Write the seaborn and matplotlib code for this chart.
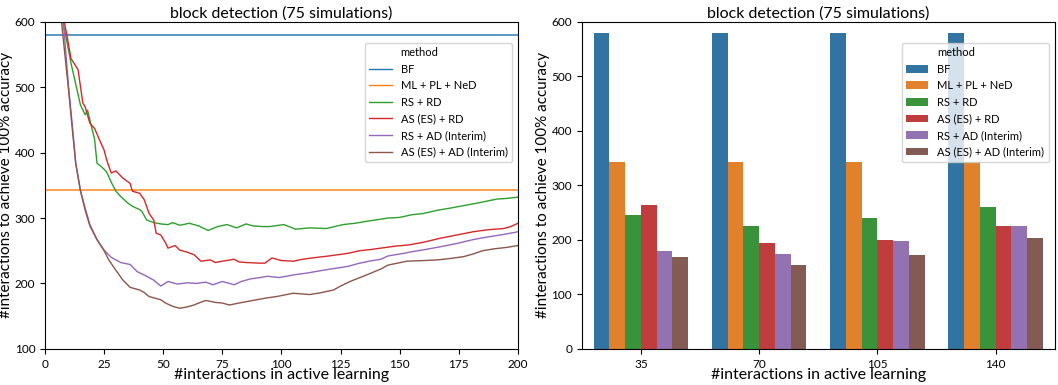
import numpy as np
import pandas as pd
import matplotlib
matplotlib.use("Agg")
import matplotlib.pyplot as plt
import seaborn as sns
from matplotlib.lines import Line2D

plt.rcParams['font.family'] = ['Lato', 'DejaVu Sans']

methods = ["BF", "ML + PL + NeD", "RS + RD", "AS (ES) + RD",
           "RS + AD (Interim)", "AS (ES) + AD (Interim)"]

# ---- left panel: curves ----
bf_x = [0, 200]
bf_y = [580, 580]
ml_x = [0, 200]
ml_y = [343, 343]

rsrd_x = [6, 8, 9, 11, 13, 15, 17, 18, 20, 21, 22, 24, 26, 28, 30, 32, 35, 37, 40, 41, 43, 46, 49, 52, 54,
          57, 61, 65, 69, 73, 77, 81, 85, 88, 92, 95, 101, 106, 112, 119, 126, 131, 136, 145, 150, 155,
          160, 166, 171, 177, 183, 187, 191, 195, 200]
rsrd_y = [632, 592, 575, 537, 505, 473, 458, 465, 435, 420, 384, 378, 371, 355, 341, 333, 323, 318, 313, 310,
          297, 293, 291, 290, 293, 289, 292, 288, 281, 287, 290, 285, 291, 288, 287, 287, 290, 283, 285, 284,
          290, 292, 295, 300, 301, 305, 307, 312, 315, 319, 323, 326, 329, 330, 332]

asrd_x = [7, 9, 11, 14, 16, 17, 19, 21, 23, 25, 26, 28, 30, 33, 36, 37, 40, 42, 44, 46, 47, 49, 51, 52, 55,
          57, 60, 63, 66, 70, 72, 75, 80, 82, 85, 91, 93, 96, 100, 105, 109, 113, 120, 128, 133, 138, 142,
          148, 154, 160, 167, 174, 181, 187, 194, 197, 200]
asrd_y = [620, 585, 544, 527, 476, 470, 445, 437, 420, 404, 390, 369, 372, 361, 353, 341, 338, 328, 307, 297,
          277, 274, 262, 254, 258, 251, 248, 244, 234, 236, 232, 234, 237, 233, 232, 231, 231, 239, 235, 234,
          237, 239, 242, 246, 250, 252, 254, 257, 259, 263, 269, 274, 279, 282, 284, 287, 292]

rsad_x = [6, 8, 10, 12, 13, 15, 17, 19, 22, 25, 28, 32, 36, 39, 43, 46, 49, 52, 56, 60, 64, 68, 71, 75, 80,
          83, 87, 91, 94, 99, 105, 111, 119, 128, 132, 137, 142, 145, 150, 156, 161, 167, 174, 181, 187,
          194, 200]
rsad_y = [640, 590, 500, 425, 384, 342, 315, 290, 267, 251, 240, 232, 229, 218, 211, 205, 196, 203, 199, 201,
          200, 202, 198, 203, 198, 203, 207, 209, 211, 209, 213, 216, 221, 226, 230, 234, 237, 242, 245,
          249, 252, 256, 261, 267, 271, 275, 279]

asad_x = [6, 7, 10, 12, 13, 15, 17, 19, 22, 25, 27, 30, 33, 36, 40, 42, 44, 49, 51, 54, 57, 60, 63, 65, 68,
          72, 75, 78, 82, 85, 91, 94, 98, 105, 112, 117, 122, 125, 129, 136, 142, 145, 149, 153, 160, 166,
          171, 177, 181, 185, 190, 195, 200]
asad_y = [635, 600, 495, 420, 384, 342, 312, 288, 267, 250, 236, 220, 205, 194, 190, 186, 180, 175, 170, 165,
          162, 164, 167, 170, 174, 171, 170, 167, 170, 172, 176, 178, 180, 185, 183, 186, 190, 196, 203, 213,
          222, 228, 231, 234, 235, 236, 238, 241, 245, 250, 253, 255, 258]

# ---- right panel: bars ----
bar_steps = ["35", "70", "105", "140"]
bar_bf = [580, 580, 580, 580]
bar_ml = [342, 342, 342, 342]
bar_rsrd = [246, 225, 240, 261]
bar_asrd = [264, 194, 200, 225]
bar_rsad = [179, 174, 198, 225]
bar_asad = [168, 154, 172, 203]

# ---- build long tables ----
series = [(bf_x, bf_y), (ml_x, ml_y), (rsrd_x, rsrd_y), (asrd_x, asrd_y),
          (rsad_x, rsad_y), (asad_x, asad_y)]
rows = []
for m, (xs, ys) in zip(methods, series):
    for xv, yv in zip(xs, ys):
        rows.append({"method": m, "x": xv, "value": yv})
line_df = pd.DataFrame(rows)

bars = [bar_bf, bar_ml, bar_rsrd, bar_asrd, bar_rsad, bar_asad]
brows = []
for m, vals in zip(methods, bars):
    for s, v in zip(bar_steps, vals):
        brows.append({"method": m, "step": s, "value": v})
bar_df = pd.DataFrame(brows)

fig, (ax1, ax2) = plt.subplots(1, 2, figsize=(10.58, 3.85), dpi=100)
fig.subplots_adjust(left=0.0425, right=0.997, top=0.943, bottom=0.094, wspace=0.135)

sns.lineplot(data=line_df, x="x", y="value", hue="method", hue_order=methods,
             linewidth=1, ax=ax1, estimator=None, sort=True)
ax1.set_xlim(0, 200)
ax1.set_ylim(100, 600)
ax1.set_xticks([0, 25, 50, 75, 100, 125, 150, 175, 200])
ax1.set_yticks([100, 200, 300, 400, 500, 600])
# constant reference lines look slightly lighter / wider
for ln in ax1.lines[:2]:
    ln.set_linewidth(1.4)
    ln.set_alpha(0.75)

sns.barplot(data=bar_df, x="step", y="value", hue="method", hue_order=methods,
            order=bar_steps, ax=ax2)
ax2.set_ylim(0, 600)
ax2.set_yticks([0, 100, 200, 300, 400, 500, 600])

for ax in (ax1, ax2):
    ax.set_title("block detection (75 simulations)", fontsize=11.5, pad=3)
    ax.set_xlabel("#interactions in active learning", fontsize=11.5, labelpad=-1)
    ax.set_ylabel("#interactions to achieve 100% accuracy", fontsize=11, labelpad=1)
    ax.tick_params(labelsize=8.5)
    h, l = ax.get_legend_handles_labels()
    blank = Line2D([], [], linestyle="none", marker=None)
    ax.legend([blank] + h, ["method"] + l, loc="upper right",
              bbox_to_anchor=(1 - 6 / 473, 1 - 20.7 / 327), borderaxespad=0,
              fontsize=8, framealpha=0.8)
    if ax is ax1:
        for lh in ax.get_legend().get_lines():
            lh.set_alpha(1)
            lh.set_linewidth(1)

fig.savefig("out.png", dpi=100)
